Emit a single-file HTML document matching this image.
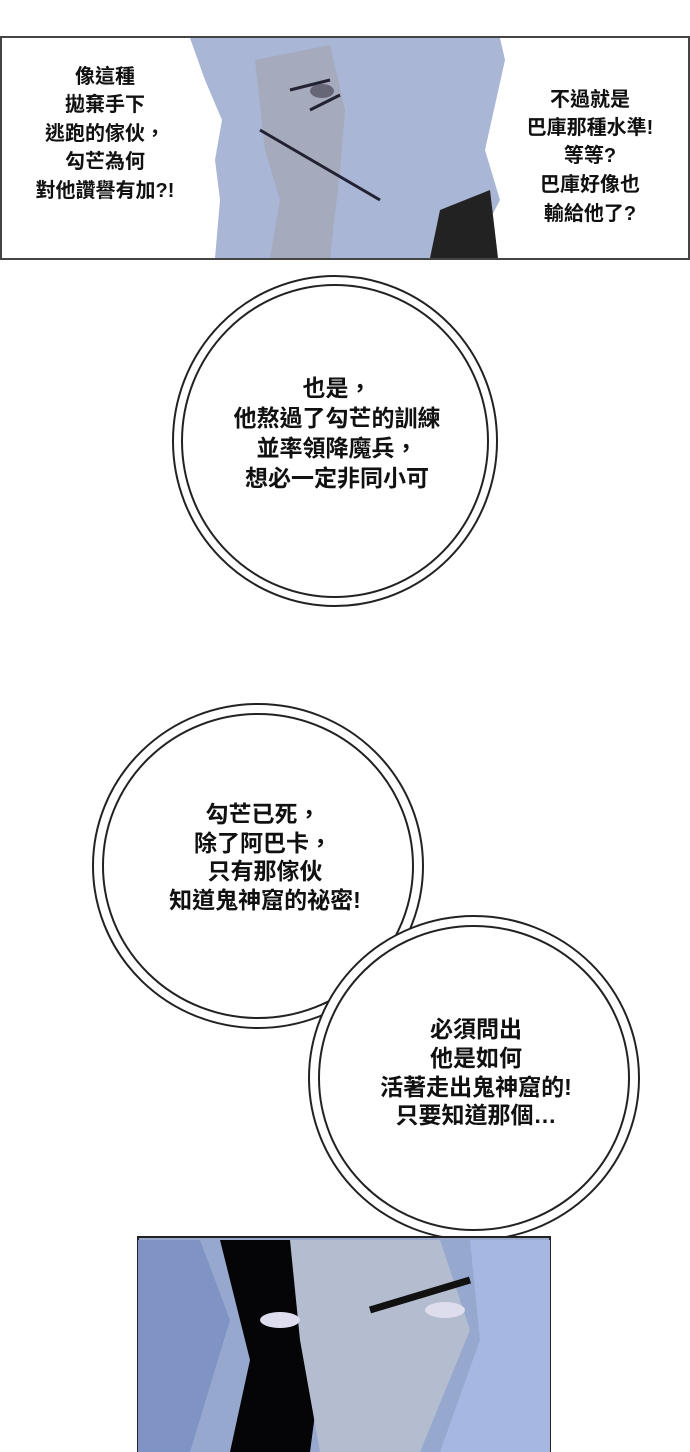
<!DOCTYPE html>
<html><head><meta charset="utf-8"><style>
html,body{margin:0;padding:0;background:#fff;}
svg{display:block;}
text{font-family:"Liberation Sans","Noto Sans CJK TC",sans-serif;font-weight:bold;fill:#111;text-anchor:middle;}
.t{font-size:20px;}
.c{font-size:23px;}
</style></head><body>
<svg width="690" height="1452" viewBox="0 0 690 1452" xmlns="http://www.w3.org/2000/svg">
<!-- top panel -->
<rect x="1" y="37" width="688" height="222" fill="#fff" stroke="#444" stroke-width="2"/>
<path d="M190,38 L500,38 L505,60 L485,150 L500,200 L470,258 L215,258 L220,200 L215,160 L222,120 L205,80 Z" fill="#a9b6d6"/>
<path d="M255,60 L330,45 L345,110 L340,170 L330,258 L270,258 L280,200 L265,150 Z" fill="#a5aabc"/>
<path d="M440,210 L490,190 L498,258 L430,258 Z" fill="#222"/>
<path d="M290,90 L330,80 M310,110 L340,95 M260,130 L380,200" stroke="#223" stroke-width="3" fill="none"/>
<ellipse cx="322" cy="91" rx="12" ry="7" fill="#667"/>
<text class="t" x="105" y="83">像這種</text>
<text class="t" x="105" y="111">拋棄手下</text>
<text class="t" x="105" y="140">逃跑的傢伙，</text>
<text class="t" x="105" y="168">勾芒為何</text>
<text class="t" x="105" y="197">對他讚譽有加?!</text>
<text class="t" x="590" y="106">不過就是</text>
<text class="t" x="590" y="134">巴庫那種水準!</text>
<text class="t" x="590" y="162">等等?</text>
<text class="t" x="590" y="191">巴庫好像也</text>
<text class="t" x="590" y="220">輸給他了?</text>
<!-- circle 1 -->
<ellipse cx="335" cy="441" rx="162" ry="165" fill="#fff" stroke="#222" stroke-width="2"/>
<ellipse cx="335" cy="441" rx="153" ry="156" fill="#fff" stroke="#222" stroke-width="2"/>
<text class="c" x="337" y="396">也是，</text>
<text class="c" x="337" y="426">他熬過了勾芒的訓練</text>
<text class="c" x="337" y="456">並率領降魔兵，</text>
<text class="c" x="337" y="486">想必一定非同小可</text>
<!-- circle 2 -->
<ellipse cx="258" cy="866" rx="165" ry="162" fill="#fff" stroke="#222" stroke-width="2"/>
<ellipse cx="258" cy="866" rx="155" ry="152" fill="#fff" stroke="#222" stroke-width="2"/>
<text class="c" x="263" y="822">勾芒已死，</text>
<text class="c" x="263" y="851">除了阿巴卡，</text>
<text class="c" x="265" y="879">只有那傢伙</text>
<text class="c" x="265" y="908">知道鬼神窟的祕密!</text>
<!-- circle 3 -->
<ellipse cx="474" cy="1078" rx="165" ry="162" fill="#fff" stroke="#222" stroke-width="2"/>
<ellipse cx="474" cy="1078" rx="155" ry="152" fill="#fff" stroke="#222" stroke-width="2"/>
<text class="c" x="476" y="1037">必須問出</text>
<text class="c" x="476" y="1066">他是如何</text>
<text class="c" x="476" y="1095">活著走出鬼神窟的!</text>
<text class="c" x="476" y="1123">只要知道那個…</text>
<!-- bottom panel -->
<rect x="138" y="1237" width="412" height="216" fill="#97a8cf" stroke="#222" stroke-width="2"/>
<path d="M220,1240 L290,1240 L330,1300 L310,1452 L230,1452 L250,1360 Z" fill="#050508"/>
<path d="M138,1240 L200,1240 L230,1320 L190,1452 L138,1452 Z" fill="#7f93c4"/>
<path d="M290,1240 L440,1240 L470,1330 L420,1452 L320,1452 L300,1340 Z" fill="#b4bccf"/>
<path d="M470,1240 L550,1240 L550,1452 L440,1452 L480,1340 Z" fill="#a6b8e2"/>
<path d="M370,1310 L470,1280" stroke="#111" stroke-width="7"/>
<ellipse cx="280" cy="1320" rx="20" ry="8" fill="#dde"/>
<ellipse cx="445" cy="1310" rx="20" ry="8" fill="#dde"/>
</svg>
</body></html>
